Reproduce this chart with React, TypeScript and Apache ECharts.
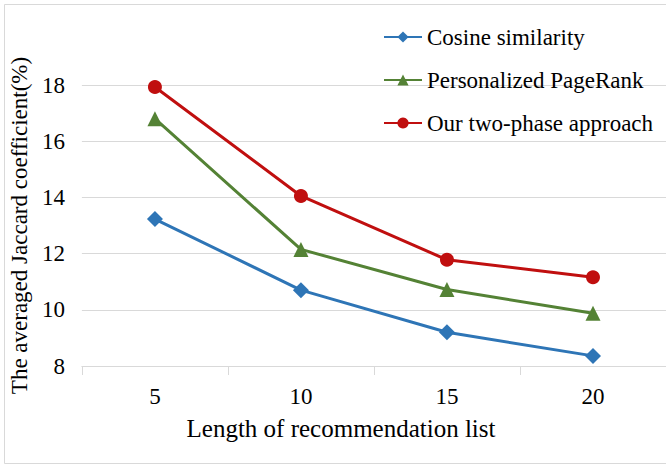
import React, { useEffect, useRef } from "react";
import * as echarts from "echarts";

const categories = ["5", "10", "15", "20"];
const cosine = [13.23, 10.7, 9.2, 8.36];
const pagerank = [16.8, 12.15, 10.72, 9.88];
const twoPhase = [17.93, 14.05, 11.78, 11.16];
const yTicks = { min: 8, max: 18, interval: 2 };

const FONT = "serif";

export default function App() {
  const ref = useRef<HTMLDivElement>(null);
  useEffect(() => {
    if (!ref.current) return;
    const chart = echarts.init(ref.current, null, { renderer: "svg" });
    const mk = (name: string, data: number[], color: string, symbol: string, size: number) => ({
      name,
      type: "line",
      data,
      symbol,
      symbolSize: size,
      showSymbol: true,
      lineStyle: { width: 3, color },
      itemStyle: { color },
    });
    chart.setOption({
      animation: false,
      backgroundColor: "#ffffff",
      textStyle: { fontFamily: FONT },
      grid: { left: 78, top: 85, width: 595, height: 281, containLabel: false },
      legend: {
        orient: "vertical",
        left: 378,
        top: 20,
        itemWidth: 38,
        itemHeight: 14,
        itemGap: 19,
        textStyle: { fontFamily: FONT, fontSize: 23, color: "#000", lineHeight: 24 },
        data: ["Cosine similarity", "Personalized PageRank", "Our two-phase approach"],
      },
      xAxis: {
        type: "category",
        data: categories,
        boundaryGap: true,
        axisLine: { show: true, lineStyle: { color: "#d9d9d9", width: 1 } },
        axisTick: { show: true, length: 9, lineStyle: { color: "#d9d9d9" } },
        axisLabel: { fontFamily: FONT, fontSize: 23, color: "#000", margin: 19 },
        splitLine: { show: false },
      },
      yAxis: {
        type: "value",
        min: yTicks.min,
        max: yTicks.max,
        interval: yTicks.interval,
        name: "The averaged Jaccard coefficient(%)",
        nameLocation: "middle",
        nameGap: 45,
        nameTextStyle: { fontFamily: FONT, fontSize: 23, color: "#000" },
        axisLine: { show: false },
        axisTick: { show: false },
        axisLabel: { fontFamily: FONT, fontSize: 23, color: "#000", margin: 17 },
        splitLine: { show: true, lineStyle: { color: "#d9d9d9", width: 1 } },
      },
      graphic: [
        {
          type: "rect",
          shape: { x: 4.5, y: 4.5, width: 700, height: 459 },
          style: { fill: "none", stroke: "#d9d9d9", lineWidth: 1 },
          silent: true,
          z: -10,
        },
        {
          type: "text",
          x: 341,
          y: 428,
          style: {
            text: "Length of recommendation list",
            fontFamily: FONT,
            fontSize: 25,
            fill: "#000",
            align: "center",
            verticalAlign: "middle",
          },
        },
      ],
      series: [
        mk("Cosine similarity", cosine, "#2e75b6", "diamond", 16),
        mk("Personalized PageRank", pagerank, "#548235", "triangle", 15),
        mk("Our two-phase approach", twoPhase, "#c00f0f", "circle", 14),
      ],
    });
    return () => chart.dispose();
  }, []);
  return (
    <div
      ref={ref}
      style={{ position: "absolute", left: 0, top: 0, width: 666, height: 466, overflow: "hidden" }}
    />
  );
}
